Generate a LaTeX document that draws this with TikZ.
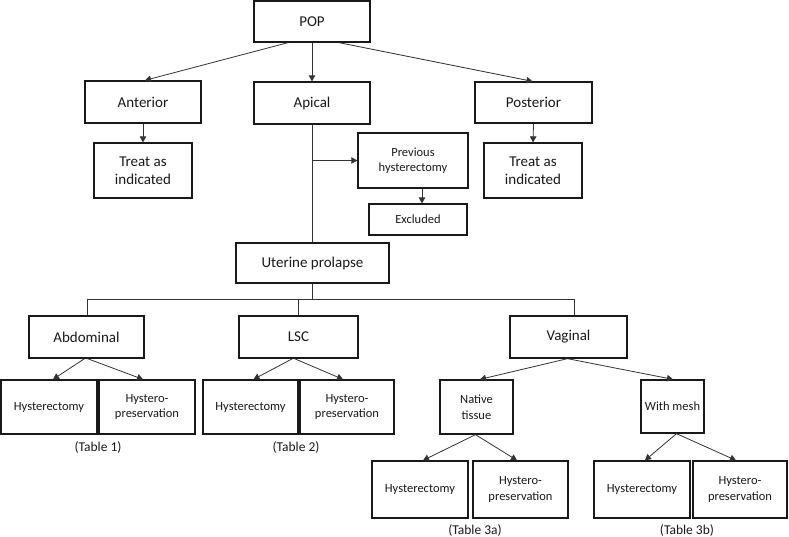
\documentclass[tikz,border=0pt]{standalone}
\usepackage{fontspec}
\setmainfont{Carlito}
\usetikzlibrary{arrows.meta}
\tikzset{
  box/.style={draw=black!90, line width=1.3pt, inner sep=0pt, align=center, text=black!90},
  big/.style={box, font=\fontsize{15}{18}\selectfont},
  small/.style={box, font=\fontsize{12.5}{15.5}\selectfont},
  captxt/.style={inner sep=0pt, text=black!90, font=\fontsize{13.5}{16}\selectfont},
  conn/.style={draw=black!80, line width=0.8pt},
  arr/.style={conn, -{Triangle[length=6pt,width=6.5pt]}}
}
\begin{document}
\begin{tikzpicture}[x=1pt,y=-1pt]
\useasboundingbox (0,0) rectangle (789,536);
% top level
\node[big, minimum width=116pt, minimum height=41pt] (pop) at (312,21.5) {POP};
\node[big, minimum width=116pt, minimum height=42pt] (ant) at (143,102) {Anterior};
\node[big, minimum width=116pt, minimum height=42pt] (api) at (312,103) {Apical};
\node[big, minimum width=117pt, minimum height=41pt] (post) at (533.5,102.5) {Posterior};
\node[big, minimum width=98pt, minimum height=55pt] (trl) at (143,170.5) {Treat as\\indicated};
\node[big, minimum width=98pt, minimum height=55pt] (trr) at (533,170.5) {Treat as\\indicated};
\node[small, minimum width=110pt, minimum height=55pt] (prev) at (413,160.5) {Previous\\hysterectomy};
\node[small, minimum width=98pt, minimum height=31pt] (excl) at (418,219.5) {Excluded};
\node[big, minimum width=153pt, minimum height=40pt] (ut) at (312.5,263) {Uterine prolapse};
% second level
\node[big, minimum width=115pt, minimum height=42pt] (abd) at (86.5,337) {Abdominal};
\node[big, minimum width=119pt, minimum height=42pt] (lsc) at (298.5,337) {LSC};
\node[big, minimum width=117pt, minimum height=42pt] (vag) at (568.5,337) {Vaginal};
% leaves
\node[small, minimum width=96pt, minimum height=54pt] (ah) at (49,407) {Hysterectomy};
\node[small, minimum width=96pt, minimum height=54pt] (ap) at (147,407) {Hystero-\\preservation};
\node[small, minimum width=95pt, minimum height=54pt] (lh) at (250.5,407) {Hysterectomy};
\node[small, minimum width=94pt, minimum height=54pt] (lp) at (347,407) {Hystero-\\preservation};
\node[small, minimum width=73pt, minimum height=54pt] (nt) at (476.5,407) {Native\\tissue};
\node[small, minimum width=63pt, minimum height=53pt] (wm) at (672.5,406.5) {With mesh};
\node[small, minimum width=96pt, minimum height=57pt] (nh) at (420,489.5) {Hysterectomy};
\node[small, minimum width=95pt, minimum height=57pt] (np) at (520.5,489.5) {Hystero-\\preservation};
\node[small, minimum width=96pt, minimum height=57pt] (mh) at (642,489.5) {Hysterectomy};
\node[small, minimum width=94pt, minimum height=57pt] (mp) at (740,489.5) {Hystero-\\preservation};
% captions
\node[captxt] (t1) at (98,447) {(Table 1)};
\node[captxt] (t2) at (296,447) {(Table 2)};
\node[captxt] (t3a) at (475,530) {(Table 3a)};
\node[captxt] (t3b) at (687,530) {(Table 3b)};
% connectors top
\draw[arr] ([xshift=-24pt]pop.south) -- ([xshift=2pt]ant.north);
\draw[arr] (pop.south) -- (api.north);
\draw[arr] ([xshift=27pt]pop.south) -- ([xshift=-1pt]post.north);
\draw[arr] (ant.south) -- (trl.north);
\draw[arr] (post.south) -- (trr.north);
\draw[conn] (api.south) -- (ut.north -| api.south);
\draw[arr] (api.south |- prev.west) -- (prev.west);
\draw[arr] ([xshift=9pt]prev.south) -- ([xshift=9pt]prev.south |- excl.north);
% bus
\coordinate (busL) at (87,299);
\coordinate (busM) at (298.5,299);
\coordinate (busR) at (574,299);
\draw[conn] (busL) -- (busR);
\draw[conn] (ut.south) -- (ut.south |- busL);
\draw[conn] (busL) -- (busL |- abd.north);
\draw[conn] (busM) -- (lsc.north);
\draw[conn] (busR) -- (busR |- vag.north);
% children arrows
\draw[arr] ([xshift=-2pt]abd.south) -- ([xshift=4pt]ah.north);
\draw[arr] ([xshift=1pt]abd.south) -- ([xshift=-4pt]ap.north);
\draw[arr] ([xshift=-6pt]lsc.south) -- ([xshift=3pt]lh.north);
\draw[arr] ([xshift=-4pt]lsc.south) -- ([xshift=-4pt]lp.north);
\draw[arr] ([xshift=-1pt]vag.south) -- ([xshift=3.5pt]nt.north);
\draw[arr] ([xshift=-1pt]vag.south) -- ([xshift=0.5pt]wm.north);
\draw[arr] ([xshift=-1pt]nt.south) -- ([xshift=3pt]nh.north);
\draw[arr] ([xshift=-1pt]nt.south) -- ([xshift=-3.5pt]np.north);
\draw[arr] ([xshift=4pt]wm.south) -- ([xshift=3pt]mh.north);
\draw[arr] ([xshift=4pt]wm.south) -- ([xshift=-4pt]mp.north);
\end{tikzpicture}
\end{document}
